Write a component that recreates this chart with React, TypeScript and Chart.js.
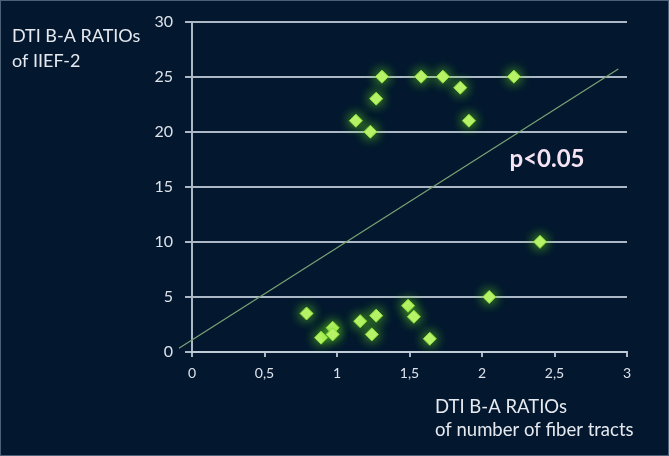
import { useEffect, useRef } from "react";
import { Chart, registerables } from "chart.js";

Chart.register(...registerables);

// ---- data ----
const fiberRatio = [0.79, 0.89, 0.97, 0.97, 1.16, 1.27, 1.24, 1.49, 1.53, 1.64, 2.05, 2.4, 1.13, 1.23, 1.27, 1.31, 1.58, 1.73, 1.85, 1.91, 2.22];
const iiefRatio = [3.5, 1.3, 2.2, 1.6, 2.8, 3.3, 1.6, 4.2, 3.2, 1.2, 5.0, 10.0, 21.0, 20.0, 23.0, 25.0, 25.0, 25.0, 24.0, 21.0, 25.0];
const trendX = [-0.09, 2.94];
const trendY = [0.35, 25.7];
const xTickValues = [0, 0.5, 1, 1.5, 2, 2.5, 3];
const xTickLabels = ["0", "0,5", "1", "1,5", "2", "2,5", "3"];
const yTickValues = [0, 5, 10, 15, 20, 25, 30];
const xTitle = ["DTI B-A RATIOs", "of number of fiber tracts"];
const yTitle = ["DTI B-A RATIOs", "of IIEF-2"];
const pValueLabel = "p<0.05";

const FONT = "Lato, 'Open Sans', 'DejaVu Sans', sans-serif";
const BG = "#03182f";
const GRID = "rgba(196,206,220,0.88)";
const TICK_TEXT = "#dde2ea";

export default function App() {
  const ref = useRef<HTMLCanvasElement | null>(null);

  useEffect(() => {
    if (!ref.current) return;

    const backgroundPlugin = {
      id: "bgFrame",
      beforeDraw(chart: any) {
        const { ctx, width, height } = chart;
        ctx.save();
        ctx.fillStyle = BG;
        ctx.fillRect(0, 0, width, height);
        ctx.strokeStyle = "rgba(110,128,148,0.7)";
        ctx.lineWidth = 1;
        ctx.strokeRect(0.5, 0.5, width - 1, height - 1);
        ctx.restore();
      },
    };

    const glowPlugin = {
      id: "glow",
      beforeDatasetDraw(chart: any, args: any) {
        if (args.index !== 0) return;
        const ctx = chart.ctx;
        ctx.save();
        ctx.shadowColor = "rgba(110,225,30,1)";
        ctx.shadowBlur = 12;
      },
      afterDatasetDraw(chart: any, args: any) {
        if (args.index !== 0) return;
        chart.ctx.restore();
      },
    };

    const textPlugin = {
      id: "texts",
      afterDraw(chart: any) {
        const ctx = chart.ctx;
        ctx.save();
        ctx.fillStyle = "#e6e9ef";
        ctx.textAlign = "left";
        ctx.textBaseline = "middle";
        ctx.font = `18px ${FONT}`;
        ctx.fillText(yTitle[0], 12, 36);
        ctx.fillText(yTitle[1], 12, 61);
        ctx.font = `18.5px ${FONT}`;
        ctx.fillText(xTitle[0], 435, 407);
        ctx.fillText(xTitle[1], 435, 430);
        ctx.font = `bold 24px ${FONT}`;
        ctx.fillStyle = "#f6e4f4";
        ctx.textAlign = "center";
        ctx.fillText(pValueLabel, 547, 159);
        ctx.restore();
      },
    };

    const points = fiberRatio.map((x, i) => ({ x, y: iiefRatio[i] }));
    const trend = trendX.map((x, i) => ({ x, y: trendY[i] }));

    const chart = new Chart(ref.current, {
      type: "scatter",
      data: {
        datasets: [
          {
            data: points,
            pointStyle: "rectRot",
            pointRadius: 6.5,
            pointHoverRadius: 6.5,
            backgroundColor: "#bdf46e",
            borderColor: "#8fdc3c",
            borderWidth: 1,
          },
          {
            type: "line",
            data: trend,
            borderColor: "#7aa373",
            borderWidth: 1.2,
            pointRadius: 0,
            fill: false,
            clip: false,
          } as any,
        ],
      },
      options: {
        animation: false,
        responsive: false,
        maintainAspectRatio: false,
        layout: { padding: { top: 12, right: 42, left: 0, bottom: 0 } },
        plugins: {
          legend: { display: false },
          tooltip: { enabled: false },
        },
        scales: {
          x: {
            type: "linear",
            min: 0,
            max: 3,
            afterFit: (s: any) => {
              s.height = 104;
            },
            afterBuildTicks: (s: any) => {
              s.ticks = xTickValues.map((v) => ({ value: v }));
            },
            ticks: {
              color: TICK_TEXT,
              font: { family: FONT, size: 14 },
              padding: 8,
              callback: (v: any) => {
                const i = xTickValues.indexOf(Number(v));
                return i >= 0 ? xTickLabels[i] : "";
              },
            },
            grid: {
              drawOnChartArea: false,
              drawTicks: true,
              tickLength: 5,
              color: GRID,
              lineWidth: 2,
            },
            border: { display: true, color: GRID, width: 2 },
          },
          y: {
            type: "linear",
            min: 0,
            max: 30,
            afterFit: (s: any) => {
              s.width = 192;
            },
            afterBuildTicks: (s: any) => {
              s.ticks = yTickValues.map((v) => ({ value: v }));
            },
            ticks: {
              color: TICK_TEXT,
              font: { family: FONT, size: 16 },
              padding: 12,
            },
            grid: {
              color: GRID,
              lineWidth: 2,
              tickLength: 7,
              drawTicks: true,
            },
            border: { display: true, color: GRID, width: 2 },
          },
        },
      },
      plugins: [backgroundPlugin, glowPlugin, textPlugin],
    });

    return () => chart.destroy();
  }, []);

  return (
    <div style={{ position: "absolute", left: 0, top: 0, width: 669, height: 456, background: BG }}>
      <canvas ref={ref} width={669} height={456} style={{ display: "block" }} />
    </div>
  );
}
